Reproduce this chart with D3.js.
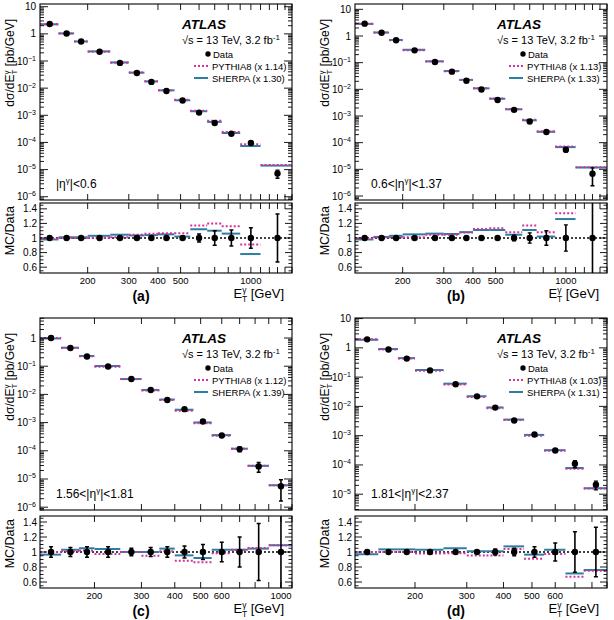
<!DOCTYPE html>
<html><head><meta charset="utf-8">
<script src="https://cdn.jsdelivr.net/npm/d3@7"></script>
<style>
body{margin:0;background:#fff}
svg{display:block}
text{font-family:"Liberation Sans",Arial,Helvetica,sans-serif;fill:#000}
</style>
</head><body>
<svg id="chart" width="614" height="620"></svg>
<script>
// ---------------- data ----------------
const edgesAB = [125,150,175,200,250,300,350,400,470,550,650,750,900,1100,1500];
const edgesC  = [125,150,175,200,250,300,350,400,470,550,650,750,900,1100];
const edgesD  = [125,150,175,200,250,300,350,400,470,550,650,750,900];

const dataA   = [2.3,1.03,0.52,0.22,0.085,0.036,0.017,0.0079,0.0035,0.00126,5.2e-4,2.1e-4,9.5e-5,7.2e-6];
const errA    = [0.01,0.01,0.01,0.01,0.01,0.01,0.015,0.015,0.03,0.055,0.1,0.11,0.14,0.33];
const sherpaA = [0.98,1.01,1.01,1.03,1.045,1.035,1.04,1.05,1.02,1.12,1.10,1.06,0.78,1.95];
const pythiaA = [0.99,1.0,1.0,1.0,1.01,1.045,1.06,1.065,1.065,1.17,1.20,1.16,0.91,2.05];

const dataB   = [2.9,1.33,0.69,0.29,0.106,0.046,0.021,0.0098,0.0040,0.0017,6.2e-4,2.5e-4,5.4e-5,6.9e-6];
const errB    = [0.01,0.01,0.01,0.01,0.01,0.01,0.01,0.015,0.03,0.04,0.07,0.1,0.18,0.65];
const sherpaB = [0.98,1.015,1.03,1.05,1.06,1.055,1.08,1.11,1.11,1.045,1.11,1.02,1.26,1.7];
const pythiaB = [0.99,1.01,1.01,1.01,1.045,1.045,1.075,1.125,1.135,1.08,1.17,1.08,1.34,1.72];

const dataC   = [1.0,0.44,0.22,0.098,0.035,0.0144,0.0063,0.003,0.0011,3.5e-4,1.15e-4,2.8e-5,5.5e-6];
const errC    = [0.07,0.06,0.07,0.07,0.05,0.06,0.07,0.08,0.1,0.13,0.2,0.38,0.7];
const sherpaC = [0.965,1.03,1.05,1.04,1.0,1.0,1.045,0.955,0.92,1.03,1.03,1.045,1.09];
const pythiaC = [1.0,1.01,1.02,0.975,1.0,0.95,1.01,0.885,0.865,0.985,1.03,1.055,1.09];

const dataD   = [1.95,0.88,0.43,0.17,0.057,0.022,0.0091,0.0033,0.0011,3.1e-4,1.1e-4,2.1e-5];
const errD    = [0.02,0.02,0.02,0.03,0.03,0.03,0.04,0.05,0.07,0.12,0.27,0.33];
const sherpaD = [0.97,1.035,1.035,1.03,1.05,1.01,1.01,1.075,0.965,1.03,0.714,0.76];
const pythiaD = [1.0,1.0,1.0,0.98,0.985,0.955,0.955,1.04,0.91,0.975,0.67,0.75];

const xTickLabelsAB = [200,300,400,500,1000];
const xTickLabelsC  = [200,300,400,500,600,1000];
const xTickLabelsD  = [200,300,400,500,600];
const ratioTicks    = [0.6,0.8,1.0,1.2,1.4];
const ratioTickText = ["0.6","0.8","1","1.2","1.4"];
const pythiaScales  = ["1.14","1.13","1.12","1.03"];
const sherpaScales  = ["1.30","1.33","1.39","1.31"];
const regionLo      = ["","0.6<","1.56<","1.81<"];
const regionHi      = ["<0.6","<1.37","<1.81","<2.37"];
const captions      = ["(a)","(b)","(c)","(d)"];

// ---------------- layout ----------------
const layout = [
  {x0:40, x1:292, top:[4,200],   rat:[203,273], yLog:[-6.12,1.1]},
  {x0:355,x1:607, top:[4,200],   rat:[203,273], yLog:[-6.15,1.2]},
  {x0:40, x1:292, top:[318,510], rat:[516,588], yLog:[-6.1,0.71]},
  {x0:355,x1:607, top:[318,510], rat:[516,588], yLog:[-5.54,1.02]}
];
const SHERPA = "#2c7fa3", PYTHIA = "#d4339f";

const panels = [
  {edges:edgesAB,data:dataA,err:errA,sherpa:sherpaA,pythia:pythiaA,xl:xTickLabelsAB},
  {edges:edgesAB,data:dataB,err:errB,sherpa:sherpaB,pythia:pythiaB,xl:xTickLabelsAB},
  {edges:edgesC, data:dataC,err:errC,sherpa:sherpaC,pythia:pythiaC,xl:xTickLabelsC},
  {edges:edgesD, data:dataD,err:errD,sherpa:sherpaD,pythia:pythiaD,xl:xTickLabelsD}
];

const svg = d3.select("#chart");

function powLabel(sel, e){
  if(e===0){ sel.text("1"); return; }
  if(e===1){ sel.text("10"); return; }
  sel.append("tspan").text("10");
  sel.append("tspan").attr("dy",-4).attr("font-size","7px").text("\u2212"+(-e));
}

panels.forEach((p,i)=>{
  const L = layout[i];
  const g = svg.append("g");
  const n = p.data.length;
  const x = d3.scaleLog().domain([p.edges[0], p.edges[p.edges.length-1]]).range([L.x0, L.x1]);
  const y = d3.scaleLog().domain([Math.pow(10,L.yLog[0]), Math.pow(10,L.yLog[1])]).range([L.top[1], L.top[0]]);
  const yr = d3.scaleLinear().domain([0.52,1.48]).range([L.rat[1], L.rat[0]]);
  const bins = d3.range(n).map(k=>({lo:p.edges[k],hi:p.edges[k+1],c:(p.edges[k]+p.edges[k+1])/2,
     v:p.data[k],e:p.err[k],s:p.sherpa[k],py:p.pythia[k]}));

  const cidT = "clipT"+i, cidR = "clipR"+i;
  const defs = svg.append("defs");
  defs.append("clipPath").attr("id",cidT).append("rect")
    .attr("x",L.x0).attr("y",L.top[0]).attr("width",L.x1-L.x0).attr("height",L.top[1]-L.top[0]);
  defs.append("clipPath").attr("id",cidR).append("rect")
    .attr("x",L.x0).attr("y",L.rat[0]).attr("width",L.x1-L.x0).attr("height",L.rat[1]-L.rat[0]);

  // ---- top panel ----
  const gt = g.append("g").attr("clip-path","url(#"+cidT+")");
  gt.selectAll(".sh").data(bins).join("line")
    .attr("x1",d=>x(d.lo)).attr("x2",d=>x(d.hi))
    .attr("y1",d=>y(d.v*d.s)).attr("y2",d=>y(d.v*d.s))
    .attr("stroke",SHERPA).attr("stroke-width",2);
  gt.selectAll(".py").data(bins).join("line")
    .attr("x1",d=>x(d.lo)).attr("x2",d=>x(d.hi))
    .attr("y1",d=>y(d.v*d.py)).attr("y2",d=>y(d.v*d.py))
    .attr("stroke",PYTHIA).attr("stroke-width",2).attr("stroke-dasharray","2,2");
  gt.selectAll(".eb").data(bins).join("line")
    .attr("x1",d=>x(d.c)).attr("x2",d=>x(d.c))
    .attr("y1",d=>y(d.v*(1+d.e))).attr("y2",d=>y(d.v*Math.max(1-d.e,0.05)))
    .attr("stroke","#000").attr("stroke-width",1.6);
  gt.selectAll(".ebc").data(bins.filter(d=>d.e>0.08)).join("path")
    .attr("d",d=>{const xc=x(d.c);const a=y(d.v*(1+d.e)),b=y(d.v*Math.max(1-d.e,0.05));
       return `M${xc-2},${a}H${xc+2}M${xc-2},${b}H${xc+2}`;})
    .attr("stroke","#000").attr("stroke-width",1.4).attr("fill","none");
  gt.selectAll(".pt").data(bins).join("circle")
    .attr("cx",d=>x(d.c)).attr("cy",d=>y(d.v)).attr("r",3.2).attr("fill","#000");

  // ---- ratio panel ----
  const gr = g.append("g").attr("clip-path","url(#"+cidR+")");
  gr.append("line").attr("x1",L.x0).attr("x2",L.x1).attr("y1",yr(1)).attr("y2",yr(1))
    .attr("stroke","#000").attr("stroke-width",1.3).attr("stroke-dasharray","2,2");
  gr.selectAll(".sh").data(bins).join("line")
    .attr("x1",d=>x(d.lo)).attr("x2",d=>x(d.hi))
    .attr("y1",d=>yr(d.s)).attr("y2",d=>yr(d.s))
    .attr("stroke",SHERPA).attr("stroke-width",2);
  gr.selectAll(".py").data(bins).join("line")
    .attr("x1",d=>x(d.lo)).attr("x2",d=>x(d.hi))
    .attr("y1",d=>yr(d.py)).attr("y2",d=>yr(d.py))
    .attr("stroke",PYTHIA).attr("stroke-width",2).attr("stroke-dasharray","2,2");
  gr.selectAll(".eb").data(bins).join("line")
    .attr("x1",d=>x(d.c)).attr("x2",d=>x(d.c))
    .attr("y1",d=>yr(1+d.e)).attr("y2",d=>yr(1-d.e))
    .attr("stroke","#000").attr("stroke-width",1.6);
  gr.selectAll(".ebc").data(bins.filter(d=>d.e>0.03)).join("path")
    .attr("d",d=>{const xc=x(d.c);const a=yr(1+d.e),b=yr(1-d.e);
       return `M${xc-2},${a}H${xc+2}M${xc-2},${b}H${xc+2}`;})
    .attr("stroke","#000").attr("stroke-width",1.4).attr("fill","none");
  gr.selectAll(".pt").data(bins).join("circle")
    .attr("cx",d=>x(d.c)).attr("cy",yr(1)).attr("r",3.2).attr("fill","#000");

  // ---- frames ----
  [[L.top[0],L.top[1]],[L.rat[0],L.rat[1]]].forEach(([t,b])=>{
    g.append("rect").attr("x",L.x0).attr("y",t).attr("width",L.x1-L.x0).attr("height",b-t)
      .attr("fill","none").attr("stroke","#000").attr("stroke-width",1.1);
  });

  // ---- ticks ----
  const tk = g.append("g").attr("stroke","#000").attr("stroke-width",0.9);
  const xt = d3.range(200,1600,100).filter(v=>v>=p.edges[0] && v<=p.edges[p.edges.length-1]);
  xt.forEach(v=>{
    const xx = x(v);
    const len = 6;
    [[L.top[0],1],[L.top[1],-1],[L.rat[0],1],[L.rat[1],-1]].forEach(([yy,dir])=>{
      tk.append("line").attr("x1",xx).attr("x2",xx).attr("y1",yy).attr("y2",yy+dir*len);
    });
  });
  const e0 = Math.ceil(L.yLog[0]), e1 = Math.floor(L.yLog[1]);
  for(let e=Math.floor(L.yLog[0]); e<=e1; e++){
    for(let k=1;k<=9;k++){
      const v = k*Math.pow(10,e);
      const lv = Math.log10(v);
      if(lv<L.yLog[0]||lv>L.yLog[1]) continue;
      const yy = y(v), len = k===1?8:4;
      tk.append("line").attr("x1",L.x0).attr("x2",L.x0+len).attr("y1",yy).attr("y2",yy);
      tk.append("line").attr("x1",L.x1).attr("x2",L.x1-len).attr("y1",yy).attr("y2",yy);
    }
  }
  for(let e=e0;e<=e1;e++){
    const t = g.append("text").attr("x",L.x0-4).attr("y",y(Math.pow(10,e))+3.5)
      .attr("text-anchor","end").attr("font-size","10px");
    powLabel(t,e);
  }
  d3.range(0.55,1.46,0.05).forEach(v=>{
    const yy = yr(v);
    const major = Math.abs(Math.round(v*5)-v*5)<1e-6;
    const len = major?7:3.5;
    tk.append("line").attr("x1",L.x0).attr("x2",L.x0+len).attr("y1",yy).attr("y2",yy);
    tk.append("line").attr("x1",L.x1).attr("x2",L.x1-len).attr("y1",yy).attr("y2",yy);
  });
  ratioTicks.forEach((v,k)=>{
    g.append("text").attr("x",L.x0-3).attr("y",yr(v)+3.5).attr("text-anchor","end")
      .attr("font-size","10px").text(ratioTickText[k]);
  });
  p.xl.forEach(v=>{
    g.append("text").attr("x",x(v)).attr("y",L.rat[1]+10.5).attr("text-anchor","middle")
      .attr("font-size","9.5px").text(v);
  });

  // ---- axis titles ----
  const yt = g.append("text").attr("transform",`translate(${L.x0-26},${L.top[0]+15}) rotate(-90)`)
    .attr("text-anchor","end").attr("font-size","12px");
  yt.append("tspan").text("d\u03C3/dE");
  yt.append("tspan").attr("dy",-5).attr("font-size","8px").text("\u03B3");
  yt.append("tspan").attr("dx",-4).attr("dy",8).attr("font-size","8px").text("T");
  yt.append("tspan").attr("dy",-3).text(" [pb/GeV]");

  g.append("text").attr("transform",`translate(${L.x0-26},${L.rat[0]+3}) rotate(-90)`)
    .attr("text-anchor","end").attr("font-size","12.5px").text("MC/Data");

  const xtl = g.append("text").attr("x",L.x1-8).attr("y",L.rat[1]+25).attr("text-anchor","end")
    .attr("font-size","13px");
  xtl.append("tspan").text("E");
  xtl.append("tspan").attr("dy",-5).attr("font-size","8.5px").text("\u03B3");
  xtl.append("tspan").attr("dx",-4.5).attr("dy",9).attr("font-size","8.5px").text("T");
  xtl.append("tspan").attr("dy",-4).text(" [GeV]");

  g.append("text").attr("x",L.x0+101).attr("y",L.rat[1]+28).attr("text-anchor","middle")
    .attr("font-family","'Liberation Serif','Times New Roman',serif").attr("font-weight","bold")
    .attr("font-size","14px").text(captions[i]);

  // ---- ATLAS label & legend ----
  g.append("text").attr("x",L.x0+142).attr("y",L.top[0]+25).attr("font-size","13.5px")
    .attr("font-weight","bold").attr("font-style","italic").text("ATLAS");
  const rs = g.append("text").attr("x",L.x0+142).attr("y",L.top[0]+40).attr("font-size","11px");
  rs.append("tspan").text("\u221As = 13 TeV, 3.2 fb");
  rs.append("tspan").attr("dy",-4).attr("font-size","8px").text("-1");

  const lx = L.x0+168, ly = L.top[0];
  g.append("circle").attr("cx",lx).attr("cy",ly+50).attr("r",2.7).attr("fill","#000");
  g.append("text").attr("x",lx+5).attr("y",ly+53.5).attr("font-size","9.5px").text("Data");
  g.append("line").attr("x1",L.x0+154).attr("x2",L.x0+168).attr("y1",ly+62).attr("y2",ly+62)
    .attr("stroke",PYTHIA).attr("stroke-width",2).attr("stroke-dasharray","2,2");
  g.append("text").attr("x",lx+4).attr("y",ly+65.5).attr("font-size","9.5px")
    .text("PYTHIA8 (x "+pythiaScales[i]+")");
  g.append("line").attr("x1",L.x0+154).attr("x2",L.x0+168).attr("y1",ly+74).attr("y2",ly+74)
    .attr("stroke",SHERPA).attr("stroke-width",2);
  g.append("text").attr("x",lx+4).attr("y",ly+77.5).attr("font-size","9.5px")
    .text("SHERPA (x "+sherpaScales[i]+")");

  const rl = g.append("text").attr("x",L.x0+16).attr("y",L.top[1]-12).attr("font-size","12px");
  rl.append("tspan").text(regionLo[i]+"|\u03B7");
  rl.append("tspan").attr("dy",-5).attr("font-size","8px").text("\u03B3");
  rl.append("tspan").attr("dy",5).text("|"+regionHi[i]);
});
</script>
</body></html>
